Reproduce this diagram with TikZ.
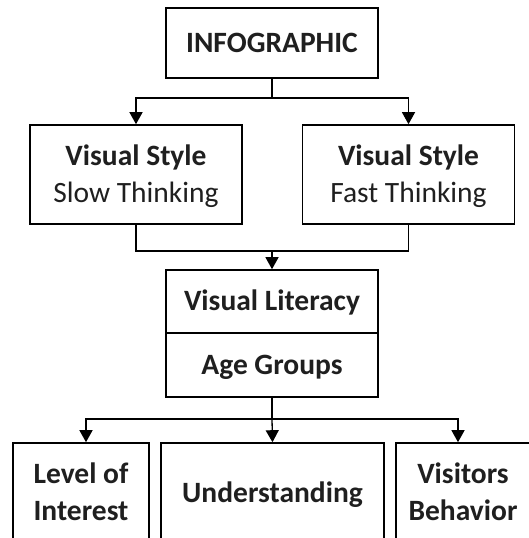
\documentclass[tikz,border=0pt]{standalone}
\usepackage{fontspec}
\setmainfont{Carlito}
\usetikzlibrary{arrows.meta}
\begin{document}
\begin{tikzpicture}[x=1pt,y=-1pt,
  box/.style={draw=black,line width=1.6pt,align=center,inner sep=0pt,
    font=\fontsize{29.5}{36.8}\selectfont\bfseries,text=black!88},
  oneline/.style={text height=18.6pt,text depth=0pt},
  twoline/.style={text height=55.4pt,text depth=0pt},
  link/.style={line width=1.3pt},
  arrow/.style={link,-{Triangle[width=13pt,length=12pt]}}]
\useasboundingbox (0,0) rectangle (529,538);
\clip (0,0) rectangle (529,538);

% top
\node[box,oneline,minimum width=212pt,minimum height=70pt] (info) at (272,43) {INFOGRAPHIC};

% visual styles
\node[box,twoline,minimum width=212pt,minimum height=99pt] (slow) at (136,174.5)
  {Visual Style\\\mdseries Slow Thinking};
\node[box,twoline,minimum width=212pt,minimum height=99pt] (fast) at (408.5,174.5)
  {Visual Style\\\mdseries Fast Thinking};

% literacy / age block
\node[box,oneline,minimum width=212pt,minimum height=63pt] (lit) at (272,301.5) {Visual Literacy};
\node[box,oneline,minimum width=212pt,minimum height=64pt] (age) at (272,365) {Age Groups};

% outcomes
\node[box,twoline,minimum width=135.5pt,minimum height=100pt] (lvl) at (81,493) {Level of\\Interest};
\node[box,oneline,minimum width=223pt,minimum height=100pt] (und) at (272.5,493) {Understanding};
\node[box,twoline,minimum width=134pt,minimum height=100pt] (vis) at (463,493) {Visitors\\Behavior};

% junction points
\coordinate (split1) at (272,98);
\coordinate (join1) at (272,251);
\coordinate (split2) at (272,419);

% connectors
\draw[link] (info.south) -- (split1);
\draw[arrow] (split1) -| (slow.north);
\draw[arrow] (split1) -| (fast.north);

\draw[link] (slow.south) |- (join1) -| (fast.south);
\draw[arrow] (join1) -- (lit.north);

\draw[link] (age.south) -- (split2);
\draw[arrow] (split2) -| ([xshift=5pt]lvl.north);
\draw[arrow] (split2) -- (und.north);
\draw[arrow] (split2) -| ([xshift=-5pt]vis.north);
\end{tikzpicture}
\end{document}
